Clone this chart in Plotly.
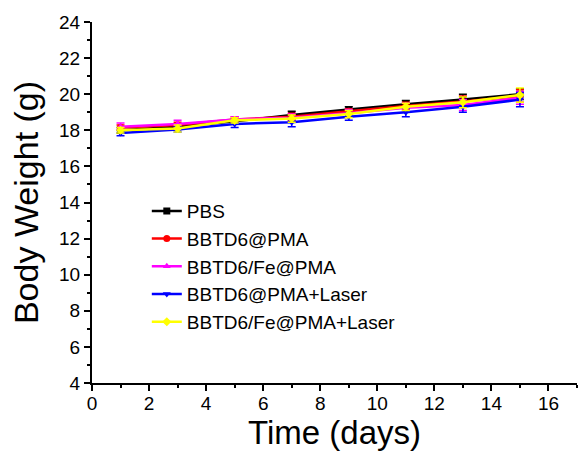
import plotly.graph_objects as go

days = [1, 3, 5, 7, 9, 11, 13, 15]
series_names = ["PBS", "BBTD6@PMA", "BBTD6/Fe@PMA", "BBTD6@PMA+Laser", "BBTD6/Fe@PMA+Laser"]
pbs = [18.0, 18.2, 18.5, 18.85, 19.15, 19.45, 19.7, 20.0]
pma = [18.15, 18.3, 18.6, 18.75, 19.05, 19.35, 19.6, 19.9]
fe_pma = [18.2, 18.35, 18.6, 18.7, 18.95, 19.25, 19.4, 19.8]
pma_laser = [17.85, 18.05, 18.35, 18.45, 18.75, 19.0, 19.3, 19.7]
fe_pma_laser = [18.0, 18.1, 18.55, 18.65, 18.9, 19.3, 19.55, 19.95]
pbs_err = [0.15, 0.15, 0.15, 0.2, 0.15, 0.2, 0.3, 0.3]
pma_err = [0.15, 0.15, 0.15, 0.2, 0.15, 0.2, 0.3, 0.35]
fe_pma_err = [0.2, 0.2, 0.15, 0.2, 0.2, 0.25, 0.3, 0.35]
pma_laser_err = [0.15, 0.15, 0.2, 0.25, 0.2, 0.25, 0.3, 0.4]
fe_pma_laser_err = [0.15, 0.2, 0.15, 0.2, 0.2, 0.2, 0.3, 0.4]

values = [pbs, pma, fe_pma, pma_laser, fe_pma_laser]
errors = [pbs_err, pma_err, fe_pma_err, pma_laser_err, fe_pma_laser_err]
colors = ["#000000", "#ff0000", "#ff00ff", "#0000ff", "#ffff00"]
symbols = ["square", "circle", "triangle-up", "triangle-down", "diamond"]

FONT = "Liberation Sans, Arial, sans-serif"

fig = go.Figure()
for name, y, e, c, s in zip(series_names, values, errors, colors, symbols):
    fig.add_trace(go.Scatter(
        x=days, y=y, name=name, mode="lines+markers",
        line=dict(color=c, width=2.5),
        marker=dict(symbol=s, size=7, color=c),
        error_y=dict(type="data", array=e, visible=True, color=c, thickness=1.5, width=4),
    ))

axis_common = dict(
    showline=True, linecolor="black", linewidth=2,
    ticks="outside", tickcolor="black", tickwidth=2, ticklen=6,
    showgrid=False, zeroline=False,
    tickfont=dict(family=FONT, size=19, color="black"),
    minor=dict(ticks="outside", ticklen=3, tickwidth=2, tickcolor="black", dtick=1, showgrid=False),
)

fig.update_layout(
    width=579, height=451,
    margin=dict(l=92, r=2, t=22, b=68),
    paper_bgcolor="white", plot_bgcolor="white",
    font=dict(family=FONT, color="black"),
    xaxis=dict(range=[0, 17], dtick=2, tick0=0, ticklabelstandoff=-4,
               title=dict(text="Time (days)", font=dict(family=FONT, size=33), standoff=0),
               **axis_common),
    yaxis=dict(range=[4, 24], dtick=2, tick0=4,
               title=dict(text="Body Weight (g)", font=dict(family=FONT, size=34), standoff=10),
               **axis_common),
    legend=dict(x=0.113, y=0.529, xanchor="left", yanchor="top",
                bgcolor="rgba(0,0,0,0)", font=dict(family=FONT, size=19),
                tracegroupgap=0, itemwidth=30),
    showlegend=True,
)

fig.write_html("out.html")
